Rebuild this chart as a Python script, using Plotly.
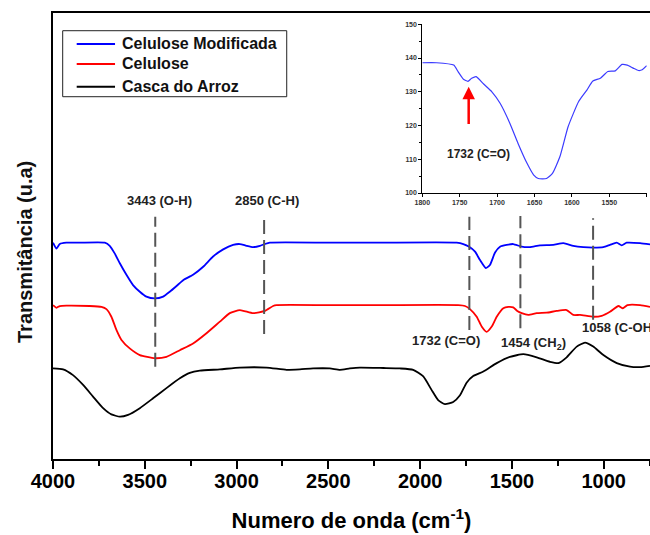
import plotly.graph_objects as go

# ---------------- data ----------------
wn_mod = [4000, 3981, 3963, 3927, 3854, 3718, 3691, 3664, 3636, 3600, 3564, 3527, 3491, 3446, 3400,
          3364, 3327, 3291, 3237, 3182, 3128, 3073, 3019, 2982, 2946, 2910, 2873, 2846, 2819, 2500,
          2219, 1801, 1765, 1733, 1701, 1674, 1642, 1620, 1592, 1565, 1529, 1493, 1447, 1402, 1347,
          1275, 1220, 1166, 1111, 1057, 1002, 966, 929, 902, 875, 802, 748]
t_mod = [48.5, 47.2, 48.2, 48.5, 48.5, 48.5, 47.8, 46.1, 43.9, 41.3, 39.0, 37.5, 36.4, 36.0, 36.4,
         37.5, 38.8, 40.1, 41.3, 43.1, 45.4, 47.0, 48.0, 48.2, 47.8, 47.5, 47.8, 48.2, 48.5, 48.5,
         48.5, 48.5, 48.2, 47.6, 46.5, 44.6, 42.8, 43.5, 46.3, 47.6, 48.0, 48.2, 47.6, 47.5, 47.9,
         48.0, 48.4, 47.8, 47.5, 47.4, 47.5, 48.0, 48.5, 47.9, 48.5, 48.4, 48.1]

wn_cel = [4000, 3981, 3963, 3927, 3800, 3736, 3709, 3682, 3654, 3627, 3582, 3527, 3446, 3382, 3309,
          3237, 3164, 3091, 3037, 2982, 2910, 2846, 2801, 2782, 2500, 2200, 1793, 1756, 1729, 1692,
          1665, 1638, 1610, 1583, 1547, 1520, 1493, 1471, 1447, 1411, 1365, 1311, 1256, 1202, 1166,
          1129, 1057, 1011, 966, 920, 896, 871, 802, 748]
t_cel = [34.5, 33.9, 34.3, 34.4, 34.3, 34.1, 33.6, 31.9, 28.9, 26.7, 24.8, 23.3, 22.6, 22.9, 24.4,
         25.9, 28.2, 30.8, 32.7, 33.4, 32.7, 33.2, 34.3, 34.5, 34.5, 34.5, 34.5, 34.3, 33.6, 31.9,
         29.7, 28.5, 29.7, 31.9, 33.8, 34.1, 34.0, 33.2, 32.7, 32.3, 32.7, 32.8, 33.2, 33.4, 32.3,
         32.3, 31.9, 32.1, 33.0, 34.3, 33.8, 34.5, 34.5, 34.1]

wn_casca = [4000, 3945, 3891, 3836, 3782, 3727, 3682, 3636, 3591, 3527, 3455, 3382, 3309, 3255, 3200,
            3091, 2982, 2837, 2728, 2655, 2583, 2492, 2437, 2383, 2328, 2200, 2110, 2038, 1983, 1938,
            1902, 1865, 1820, 1783, 1747, 1711, 1656, 1583, 1511, 1438, 1365, 1293, 1247, 1202, 1147,
            1102, 1057, 1002, 929, 857, 802, 748]
t_casca = [20.3, 20.1, 18.8, 16.6, 14.0, 11.4, 10.0, 9.5, 9.9, 11.4, 13.6, 15.9, 18.1, 19.3, 19.8,
           20.1, 20.5, 20.5, 20.0, 20.1, 20.3, 20.3, 20.0, 20.3, 20.5, 20.4, 20.3, 20.0, 18.5, 15.5,
           13.2, 12.3, 12.8, 14.3, 17.1, 18.6, 19.6, 21.5, 22.9, 23.5, 22.8, 21.8, 21.5, 22.8, 25.2,
           26.1, 25.2, 23.3, 21.5, 20.7, 20.6, 20.9]

# inset (Celulose Modificada, 1800-1500 cm-1)
inset_wn = [1800, 1781, 1758, 1752, 1745, 1739, 1734, 1728, 1718, 1707, 1696, 1683, 1672, 1660, 1651,
            1645, 1634, 1626, 1616, 1605, 1591, 1580, 1572, 1562, 1552, 1542, 1533, 1526, 1518, 1511,
            1506, 1500]
inset_t = [138.6, 138.6, 137.9, 135.9, 133.7, 133.1, 134.0, 134.5, 132.3, 130.0, 126.6, 120.7, 114.7,
           108.8, 105.3, 104.3, 104.3, 105.8, 110.8, 119.7, 127.1, 130.5, 133.2, 134.0, 136.0, 136.2,
           138.1, 137.9, 137.0, 136.3, 136.5, 137.7]

series_names = ["Celulose Modificada", "Celulose", "Casca do Arroz"]
series_colors = ["#0000FF", "#FF0000", "#000000"]

# band assignments
peak_wn = [3443, 2850, 1732, 1454, 1058]
peak_text = ["3443 (O-H)", "2850 (C-H)", "1732 (C=O)", "1454 (CH<sub>2</sub>)", "1058 (C-OH)"]
peak_line_top = [54.3, 54.3, 54.3, 54.5, 54.0]
peak_line_bottom = [20.7, 28.0, 28.9, 29.3, 31.2]
label_x = [3418, 2835, 1860, 1571, 1129]
label_y = [57.9, 57.9, 26.5, 25.8, 29.4]
label_anchor = ["center", "center", "center", "left", "left"]

x_ticks = [4000, 3500, 3000, 2500, 2000, 1500, 1000]
inset_x_ticks = [1800, 1750, 1700, 1650, 1600, 1550, 1500]
inset_y_ticks = [100, 110, 120, 130, 140, 150]

FONT = "Arial, Liberation Sans, sans-serif"

fig = go.Figure()
for wn, t, name, col in zip([wn_mod, wn_cel, wn_casca], [t_mod, t_cel, t_casca], series_names, series_colors):
    fig.add_trace(go.Scatter(x=wn, y=t, mode="lines", name=name, showlegend=False,
                             line=dict(color=col, width=1.8, shape="spline", smoothing=0.5)))

fig.add_trace(go.Scatter(x=inset_wn, y=inset_t, mode="lines", xaxis="x2", yaxis="y2",
                         showlegend=False, line=dict(color="#3b3bff", width=1.2, shape="spline", smoothing=0.5)))

shapes = []
for xw, y0, y1 in zip(peak_wn, peak_line_bottom, peak_line_top):
    shapes.append(dict(type="line", xref="x", yref="y", x0=xw, x1=xw, y0=y0, y1=y1,
                       line=dict(color="#555555", width=2, dash="14px,6px")))

annotations = []
for xt, yt, txt, anc in zip(label_x, label_y, peak_text, label_anchor):
    annotations.append(dict(x=xt, y=yt, xref="x", yref="y", text=txt, showarrow=False,
                            xanchor=anc, yanchor="middle",
                            font=dict(family=FONT, size=13, color="#222222", weight="bold")))

# legend box (boxed key in the upper-left corner)
legend_rows_y = [0.9305, 0.8857, 0.8348]
shapes.append(dict(type="rect", xref="paper", yref="paper", x0=0.01625, x1=0.3915, y0=0.8123, y1=0.9603,
                   line=dict(color="#222222", width=1), fillcolor="white", layer="above"))
for name, col, yy in zip(series_names, series_colors, legend_rows_y):
    shapes.append(dict(type="line", xref="paper", yref="paper", x0=0.0397, x1=0.1039, y0=yy, y1=yy,
                       line=dict(color=col, width=2), layer="above"))
    annotations.append(dict(x=0.1122, y=yy, xref="paper", yref="paper", text=name, showarrow=False,
                            xanchor="left", yanchor="middle",
                            font=dict(family=FONT, size=16, color="#111111", weight="bold")))

# y-axis title
annotations.append(dict(x=-0.047, y=0.464, xref="paper", yref="paper", text="Transmitância (u.a)",
                        textangle=-90, showarrow=False, xanchor="center", yanchor="middle",
                        font=dict(family=FONT, size=20, color="#111111", weight="bold")))

# inset arrow and label
annotations.append(dict(x=1738, y=131.5, ax=1738, ay=120, xref="x2", yref="y2", axref="x2", ayref="y2",
                        text="", showarrow=True, arrowhead=2, arrowsize=1, arrowwidth=2.5,
                        arrowcolor="#FF0000"))
annotations.append(dict(x=1725, y=111.5, xref="x2", yref="y2", text="1732 (C=O)", showarrow=False,
                        xanchor="center", yanchor="middle",
                        font=dict(family=FONT, size=12, color="#222222", weight="bold")))

fig.update_layout(
    width=650, height=535,
    margin=dict(l=53, r=0, t=13, b=76),
    paper_bgcolor="white", plot_bgcolor="white",
    showlegend=False,
    xaxis=dict(range=[4000, 748], tickvals=x_ticks, ticks="outside", ticklen=8, tickwidth=2,
               tickcolor="black", showline=True, linewidth=2, linecolor="black", mirror=True,
               showgrid=False, zeroline=False, ticklabelstandoff=-5,
               minor=dict(dtick=250, ticks="outside", ticklen=5, tickwidth=2, tickcolor="black"),
               tickfont=dict(family=FONT, size=20, color="black", weight="bold"),
               title=dict(text="Numero de onda (cm<sup>-1</sup>)", standoff=22,
                          font=dict(family=FONT, size=22, color="black", weight="bold"))),
    yaxis=dict(range=[0, 100], showticklabels=False, ticks="", showline=True, linewidth=2,
               linecolor="black", showgrid=False, zeroline=False),
    xaxis2=dict(domain=[0.6186, 0.9945], anchor="y2", range=[1800, 1500], tickvals=inset_x_ticks,
                ticks="outside", ticklen=3, tickwidth=1, tickcolor="black", showline=True, linewidth=1,
                linecolor="black", showgrid=False, zeroline=False,
                tickfont=dict(family=FONT, size=7, color="#333333", weight="bold")),
    yaxis2=dict(domain=[0.5964, 0.9747], anchor="x2", range=[100, 150], tickvals=inset_y_ticks,
                ticks="outside", ticklen=3, tickwidth=1, tickcolor="black", showline=True, linewidth=1,
                linecolor="black", showgrid=False, zeroline=False,
                minor=dict(dtick=5, ticks="outside", ticklen=2, tickcolor="black"),
                tickfont=dict(family=FONT, size=7, color="#333333", weight="bold")),
    shapes=shapes,
    annotations=annotations,
)

fig.write_html("out.html", config={"displayModeBar": False},
               post_script="document.body.style.margin='0';document.body.style.overflow='hidden';")
